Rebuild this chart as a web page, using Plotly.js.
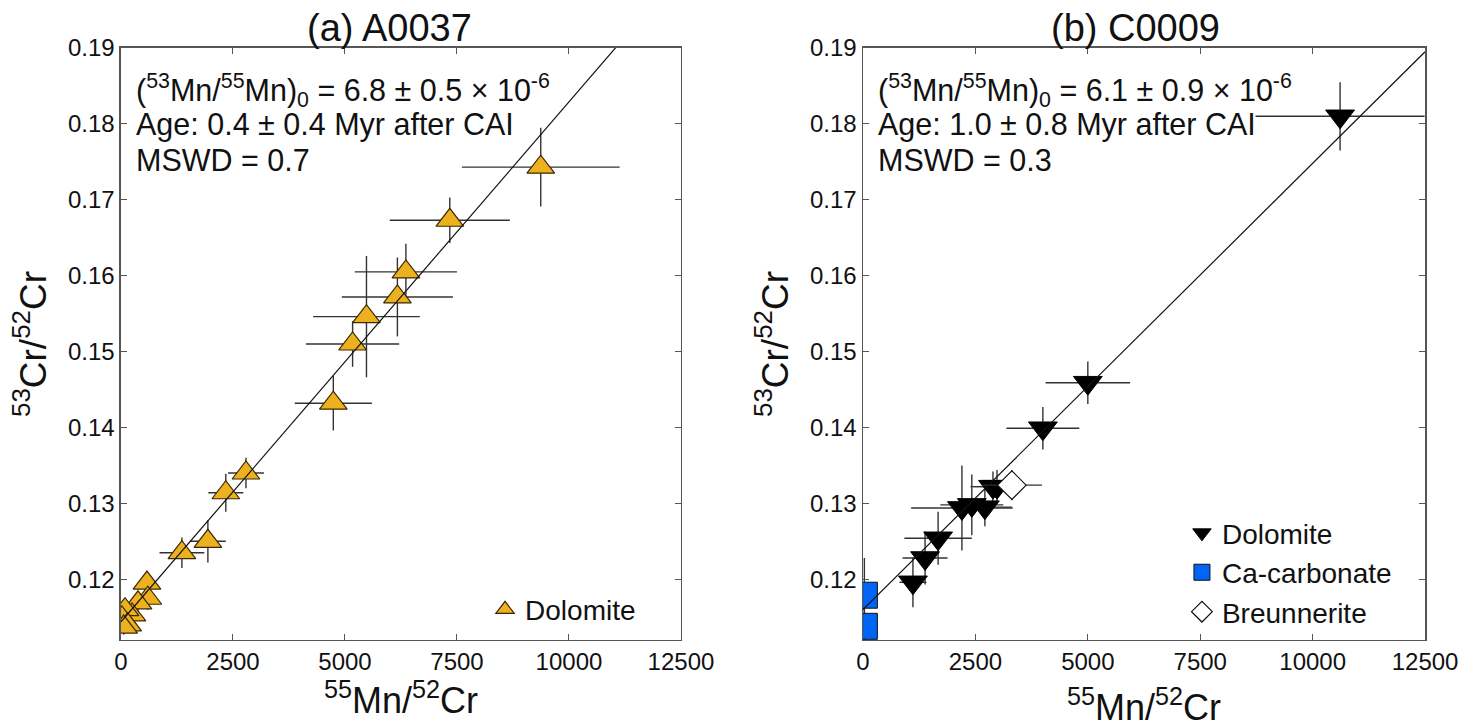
<!DOCTYPE html>
<html>
<head>
<meta charset="utf-8">
<script src="https://cdn.plot.ly/plotly-3.0.1.min.js"></script>
<style>html,body{margin:0;padding:0;background:#fff;}#chart{width:1461px;height:728px;}</style>
</head>
<body>
<div id="chart"></div>
<script>
// ---------- Panel (a) A0037 : Dolomite ----------
const a_dol_x    = [9370, 7340, 6360, 6170, 5480, 5170, 4740, 2790, 2340, 1940, 1360, 580, 600, 380, 245, 90, 20, 150, 60];
const a_dol_y    = [0.1743, 0.1673, 0.1605, 0.1572, 0.1546, 0.1510, 0.1432, 0.1340, 0.1314, 0.1250, 0.1235, 0.1195, 0.1175, 0.1169, 0.1153, 0.1160, 0.1149, 0.1140, 0.1137];
const a_dol_xerr = [1760, 1340, 1140, 1240, 1190, 1040, 860, 400, 390, 400, 500, 120, 120, 100, 100, 80, 60, 80, 60];
const a_dol_yerr = [0.0052, 0.0030, 0.0037, 0.0052, 0.0080, 0.0030, 0.0036, 0.0020, 0.0025, 0.0028, 0.0020, 0.0015, 0.0015, 0.0012, 0.0012, 0.0012, 0.0010, 0.0010, 0.0010];
const a_fit = {intercept: 0.1144, slope: 6.85e-6};

// ---------- Panel (b) C0009 ----------
const b_dol_x    = [10610, 5000, 4000, 2890, 2980, 2710, 2420, 2200, 1670, 1380, 1110];
const b_dol_y    = [0.1810, 0.1459, 0.1399, 0.1322, 0.1322, 0.1295, 0.1298, 0.1294, 0.1254, 0.1228, 0.1196];
const b_dol_xerr = [1880, 940, 810, 500, 520, 600, 700, 1130, 750, 500, 300];
const b_dol_yerr = [0.0045, 0.0028, 0.0028, 0.0020, 0.0022, 0.0025, 0.0040, 0.0056, 0.0035, 0.0035, 0.0033];
const b_cac_x    = [30, 30];
const b_cac_y    = [0.1179, 0.1138];
const b_cac_yerr = [0.0049, 0.0030];
const b_bre_x    = [3310];
const b_bre_y    = [0.1324];
const b_bre_xerr = [670];
const b_bre_yerr = [0.0020];
const b_fit = {intercept: 0.1160, slope: 5.88e-6};

const xTicks = [0, 2500, 5000, 7500, 10000, 12500];
const yTicks = [0.12, 0.13, 0.14, 0.15, 0.16, 0.17, 0.18, 0.19];
const xRange = [0, 12500];
const yRange = [0.112, 0.19];

const FONT = 'Liberation Sans, Arial, Helvetica, sans-serif';
const errStyle = {type:'data', visible:true, color:'#333333', thickness:1.4, width:0};

function fitLine(fit){
  return {x: xRange.slice(), y: xRange.map(v => fit.intercept + fit.slope*v)};
}
const la = fitLine(a_fit), lb = fitLine(b_fit);

const traces = [
  {x:a_dol_x, y:a_dol_y, type:'scatter', mode:'markers', name:'Dolomite', xaxis:'x', yaxis:'y', legend:'legend',
   error_x: Object.assign({array:a_dol_xerr}, errStyle), error_y: Object.assign({array:a_dol_yerr}, errStyle),
   marker:{symbol:'triangle-up', size:24, color:'#EDB120', line:{color:'#3a2a00', width:1.2}}},
  {x:la.x, y:la.y, type:'scatter', mode:'lines', xaxis:'x', yaxis:'y', showlegend:false, hoverinfo:'skip',
   line:{color:'#111', width:1.2}},
  {x:b_dol_x, y:b_dol_y, type:'scatter', mode:'markers', name:'Dolomite', xaxis:'x2', yaxis:'y2', legend:'legend2',
   error_x: Object.assign({array:b_dol_xerr}, errStyle), error_y: Object.assign({array:b_dol_yerr}, errStyle),
   marker:{symbol:'triangle-down', size:25, color:'#000000', line:{color:'#000', width:1}}},
  {x:b_cac_x, y:b_cac_y, type:'scatter', mode:'markers', name:'Ca-carbonate', xaxis:'x2', yaxis:'y2', legend:'legend2',
   error_y: Object.assign({array:b_cac_yerr}, errStyle),
   marker:{symbol:'square', size:26, color:'#0064F5', line:{color:'#111', width:1}}},
  {x:b_bre_x, y:b_bre_y, type:'scatter', mode:'markers', name:'Breunnerite', xaxis:'x2', yaxis:'y2', legend:'legend2',
   error_x: Object.assign({array:b_bre_xerr}, errStyle), error_y: Object.assign({array:b_bre_yerr}, errStyle),
   marker:{symbol:'diamond', size:22, color:'#ffffff', line:{color:'#111', width:1.2}}},
  {x:lb.x, y:lb.y, type:'scatter', mode:'lines', xaxis:'x2', yaxis:'y2', showlegend:false, hoverinfo:'skip',
   line:{color:'#111', width:1.2}}
];

function xax(domain, standoff){
  return {domain:domain, range:xRange, tickvals:xTicks, ticktext:xTicks.map(String), ticks:'inside', ticklen:6,
    tickcolor:'#555', showline:true, linecolor:'#555', linewidth:1.5, mirror:'ticks', showgrid:false, zeroline:false,
    tickfont:{family:FONT, size:24, color:'#111'},
    title:{text:'<sup>55</sup>Mn/<sup>52</sup>Cr', font:{family:FONT, size:36, color:'#111'}, standoff:standoff}};
}
function yax(domain, anchor){
  return {domain:domain, anchor:anchor, range:yRange, tickvals:yTicks, ticktext:yTicks.map(v=>v.toFixed(2)), ticks:'inside', ticklen:6,
    tickcolor:'#555', showline:true, linecolor:'#555', linewidth:1.5, mirror:'ticks', showgrid:false, zeroline:false,
    tickfont:{family:FONT, size:24, color:'#111'},
    title:{text:'<sup>53</sup>Cr/<sup>52</sup>Cr', font:{family:FONT, size:37, color:'#111'}, standoff:10}};
}

const yDom = [0.1209, 0.9341];
function ann(xref, yref, text, y, size){
  return {xref:xref, yref:yref, x:0.023, y:y, xanchor:'left', yanchor:'middle', showarrow:false, align:'left',
    text:text, font:{family:FONT, size:size, color:'#111'}};
}
const annotations = [
  {xref:'x domain', yref:'y domain', x:0.48, y:1.033, xanchor:'center', yanchor:'middle', showarrow:false,
   text:'(a) A0037', font:{family:FONT, size:38, color:'#111'}},
  {xref:'x2 domain', yref:'y2 domain', x:0.485, y:1.033, xanchor:'center', yanchor:'middle', showarrow:false,
   text:'(b) C0009', font:{family:FONT, size:38, color:'#111'}},
  ann('x domain','y domain','(<sup>53</sup>Mn/<sup>55</sup>Mn)<sub>0</sub> = 6.8 ± 0.5 × 10<sup>-6</sup>', 0.929, 30.5),
  ann('x domain','y domain','Age: 0.4 ± 0.4 Myr after CAI', 0.870, 30.5),
  ann('x domain','y domain','MSWD = 0.7', 0.811, 30.5),
  ann('x2 domain','y2 domain','(<sup>53</sup>Mn/<sup>55</sup>Mn)<sub>0</sub> = 6.1 ± 0.9 × 10<sup>-6</sup>', 0.929, 30.5),
  ann('x2 domain','y2 domain','Age: 1.0 ± 0.8 Myr after CAI', 0.870, 30.5),
  ann('x2 domain','y2 domain','MSWD = 0.3', 0.811, 30.5)
];

const layout = {
  width:1461, height:728, margin:{l:0, r:0, t:0, b:0}, paper_bgcolor:'#fff', plot_bgcolor:'#fff',
  font:{family:FONT, color:'#111'},
  xaxis: Object.assign(xax([0.0828, 0.4661], 4), {anchor:'y'}),
  yaxis: yax(yDom, 'x'),
  xaxis2: Object.assign(xax([0.5907, 0.9754], 20), {anchor:'y2'}),
  yaxis2: yax(yDom, 'x2'),
  legend:{x:0.332, y:0.197, xanchor:'left', yanchor:'top', bgcolor:'rgba(0,0,0,0)', font:{family:FONT, size:28, color:'#111'}},
  legend2:{x:0.809, y:0.302, xanchor:'left', yanchor:'top', bgcolor:'rgba(0,0,0,0)', font:{family:FONT, size:28, color:'#111'}},
  showlegend:true,
  annotations: annotations
};

Plotly.newPlot('chart', traces, layout, {staticPlot:true, displayModeBar:false});
</script>
</body>
</html>
